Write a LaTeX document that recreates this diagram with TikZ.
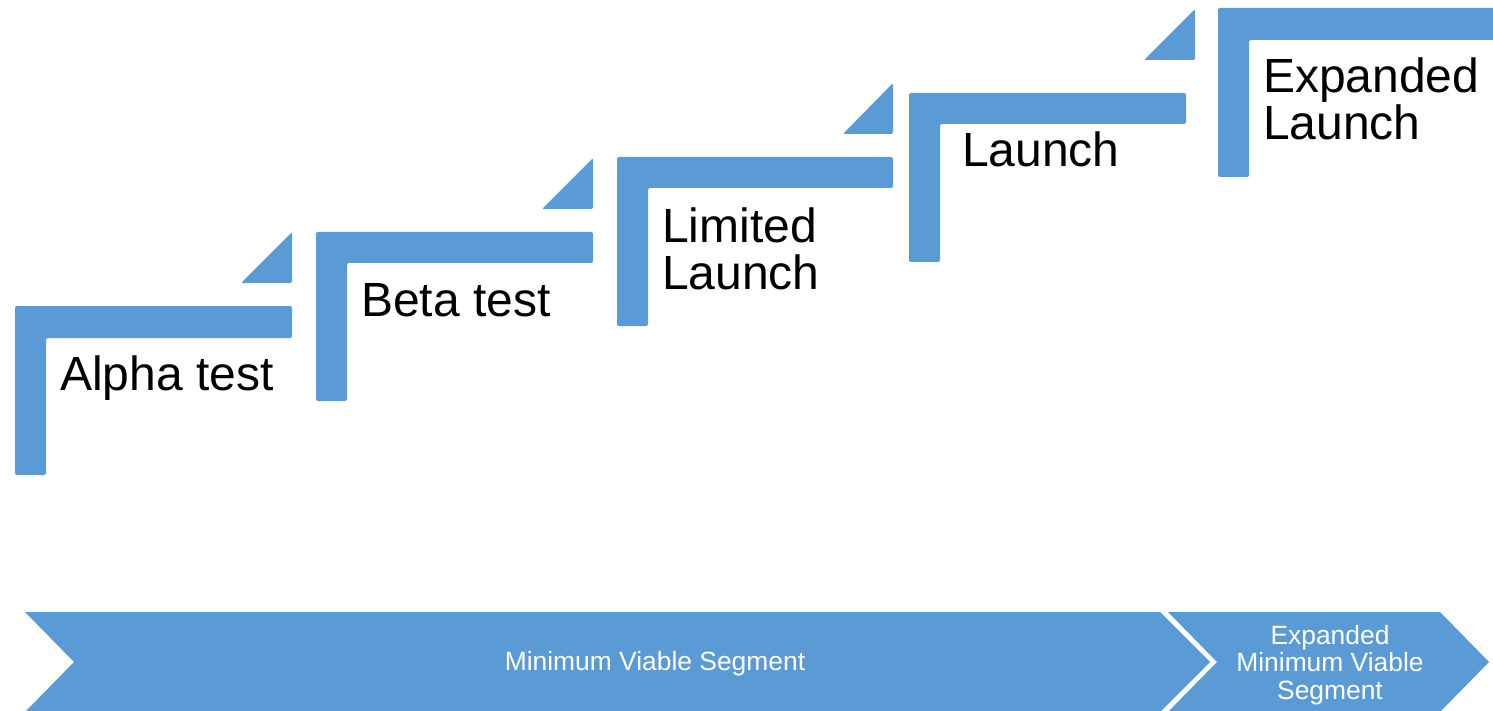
\documentclass[tikz,border=0pt]{standalone}
\usepackage{fontspec}
\setmainfont{Liberation Sans}
\definecolor{stepblue}{HTML}{5B9BD5}
\begin{document}
\begin{tikzpicture}[x=1pt,y=-1pt,
  stepshape/.style={fill=stepblue,draw=none,rounded corners=2pt},
  chev/.style={fill=stepblue,draw=none},
  steptext/.style={anchor=base west,inner sep=0pt,align=left,font=\fontsize{48}{47}\selectfont,text=black},
  chevtext/.style={anchor=base,inner sep=0pt,align=center,font=\fontsize{26.4}{27.5}\selectfont,text=white}]
\useasboundingbox (0,0) rectangle (1493,711);
\clip (0,0) rectangle (1493,711);
% step 1
\path[stepshape] (15,306) -- (292,306) -- (292,338) -- (46,338) -- (46,475) -- (15,475) -- cycle;
\path[stepshape] (292,232) -- (292,283) -- (241,283) -- cycle;
% step 2
\path[stepshape] (316,232) -- (593,232) -- (593,263) -- (347,263) -- (347,401) -- (316,401) -- cycle;
\path[stepshape] (593,158) -- (593,209) -- (542,209) -- cycle;
% step 3
\path[stepshape] (617,157) -- (893,157) -- (893,188) -- (648,188) -- (648,326) -- (617,326) -- cycle;
\path[stepshape] (893,83) -- (893,134) -- (843,134) -- cycle;
% step 4
\path[stepshape] (909,93) -- (1186,93) -- (1186,124) -- (940,124) -- (940,262) -- (909,262) -- cycle;
\path[stepshape] (1195,9) -- (1195,60) -- (1144,60) -- cycle;
% step 5
\path[stepshape] (1218,8) -- (1500,8) -- (1500,40) -- (1249,40) -- (1249,177) -- (1218,177) -- cycle;
% texts
\node[steptext] (alpha) at (60,390) {Alpha test};
\node[steptext] (beta) at (361,316) {Beta test};
\node[steptext] (limited) at (662,289) {Limited\\Launch};
\node[steptext] (launch) at (962,167) {Launch};
\node[steptext] (expanded) at (1263,140) {Expanded\\Launch};
% chevrons
\path[chev] (25,612) -- (1160,612) -- (1210,662) -- (1160,712) -- (25,712) -- (74,662) -- cycle;
\path[chev] (1168,612) -- (1440,612) -- (1489,662) -- (1440,712) -- (1168,712) -- (1217,662) -- cycle;
\node[chevtext] (mvs) at (655,670) {Minimum Viable Segment};
\node[chevtext] (emvs) at (1330,699) {Expanded\\Minimum Viable\\Segment};
\end{tikzpicture}
\end{document}
